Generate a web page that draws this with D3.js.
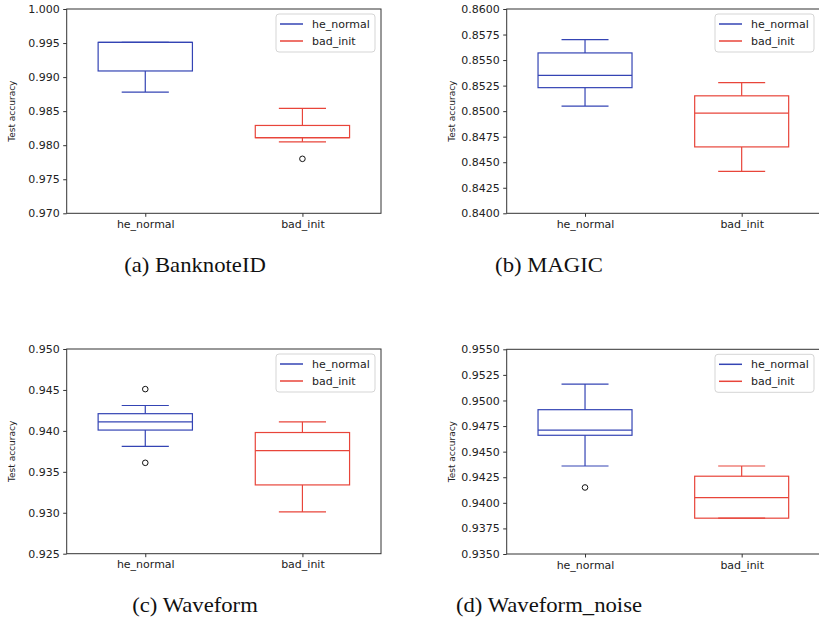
<!DOCTYPE html>
<html>
<head>
<meta charset="utf-8">
<script src="https://cdn.jsdelivr.net/npm/d3@7"></script>
<style>
  body { margin: 0; background: #fff; }
  svg { display: block; }
  .tick text { font-family: "DejaVu Sans", sans-serif; font-size: 11px; fill: #222; }
  .tick line { stroke: #333; }
</style>
</head>
<body>
<div id="chart"></div>
<script>
// categories on the x axis
var categories = ["he_normal", "bad_init"];

// box stats: [lower whisker, q1, median, q3, upper whisker]
var banknoteHe  = [0.9878, 0.9909, 0.9951, 0.9951, 0.9951];
var banknoteBad = [0.9805, 0.9811, 0.9811, 0.9829, 0.9854];
var magicHe     = [0.8505, 0.8523, 0.8535, 0.8557, 0.8570];
var magicBad    = [0.8441, 0.8465, 0.8498, 0.8515, 0.8528];
var waveHe      = [0.9381, 0.9401, 0.9411, 0.9421, 0.9431];
var waveBad     = [0.9301, 0.9334, 0.9376, 0.9398, 0.9411];
var noiseHe     = [0.9436, 0.9466, 0.9471, 0.9491, 0.9516];
var noiseBad    = [0.9385, 0.9385, 0.9405, 0.9426, 0.9436];

// outliers (fliers)
var banknoteHeOut  = [];
var banknoteBadOut = [0.9780];
var magicHeOut     = [];
var magicBadOut    = [];
var waveHeOut      = [0.9451, 0.9361];
var waveBadOut     = [];
var noiseHeOut     = [0.9415];
var noiseBadOut    = [];

// y ranges and ticks
var banknoteTicks = [0.970, 0.975, 0.980, 0.985, 0.990, 0.995, 1.000];
var magicTicks    = [0.8400, 0.8425, 0.8450, 0.8475, 0.8500, 0.8525, 0.8550, 0.8575, 0.8600];
var waveTicks     = [0.925, 0.930, 0.935, 0.940, 0.945, 0.950];
var noiseTicks    = [0.9350, 0.9375, 0.9400, 0.9425, 0.9450, 0.9475, 0.9500, 0.9525, 0.9550];

var captions = ["(a) BanknoteID", "(b) MAGIC", "(c) Waveform", "(d) Waveform_noise"];

var colors = ["#3444b4", "#e8453a"];

var W = 819, H = 627;
var svg = d3.select("#chart").append("svg").attr("width", W).attr("height", H);

// plot rectangles (left, top, right, bottom) and caption position
var layout = [
  { l: 66.7,  t: 9,     r: 381, b: 213.3, labX: 12,    capX: 195, capY: 272 },
  { l: 506.7, t: 9,     r: 820, b: 213.3, labX: 451.7, capX: 549, capY: 272 },
  { l: 66.7,  t: 349,   r: 381, b: 553.7, labX: 12,    capX: 195, capY: 612 },
  { l: 506.7, t: 349.3, r: 820, b: 554,   labX: 451.7, capX: 549, capY: 612 }
];

var panels = [
  { stats: [banknoteHe, banknoteBad], out: [banknoteHeOut, banknoteBadOut], ticks: banknoteTicks, fmt: ".3f" },
  { stats: [magicHe, magicBad],       out: [magicHeOut, magicBadOut],       ticks: magicTicks,    fmt: ".4f" },
  { stats: [waveHe, waveBad],         out: [waveHeOut, waveBadOut],         ticks: waveTicks,     fmt: ".3f" },
  { stats: [noiseHe, noiseBad],       out: [noiseHeOut, noiseBadOut],       ticks: noiseTicks,    fmt: ".4f" }
];

panels.forEach(function(p, i) {
  var L = layout[i];
  var g = svg.append("g");

  var x = d3.scaleLinear().domain([0.5, 2.5]).range([L.l, L.r]);
  var y = d3.scaleLinear().domain(d3.extent(p.ticks)).range([L.b, L.t]);
  var boxW = 0.6, capW = 0.3;

  // y axis
  g.append("g")
    .attr("transform", "translate(" + L.l + ",0)")
    .call(d3.axisLeft(y).tickValues(p.ticks).tickFormat(d3.format(p.fmt))
      .tickSize(3.5).tickPadding(3.5).tickSizeOuter(0))
    .call(function(a) { a.select(".domain").remove(); });

  // x axis
  g.append("g")
    .attr("transform", "translate(0," + L.b + ")")
    .call(d3.axisBottom(x).tickValues([1, 2]).tickFormat(function(d) { return categories[d - 1]; })
      .tickSize(3.5).tickPadding(3.5).tickSizeOuter(0))
    .call(function(a) { a.select(".domain").remove(); });

  // spines
  g.append("rect")
    .attr("x", L.l).attr("y", L.t)
    .attr("width", L.r - L.l).attr("height", L.b - L.t)
    .attr("fill", "none").attr("stroke", "#333").attr("stroke-width", 1);

  // y label
  g.append("text")
    .attr("transform", "translate(" + L.labX + "," + ((L.t + L.b) / 2) + ") rotate(-90)")
    .attr("text-anchor", "middle").attr("dy", "0.35em")
    .style("font-family", "DejaVu Sans, sans-serif").style("font-size", "9px").style("fill", "#222")
    .text("Test accuracy");

  // boxes
  p.stats.forEach(function(s, k) {
    var c = colors[k], cx = x(k + 1);
    var bg = g.append("g").attr("stroke", c).attr("stroke-width", 1.2).attr("fill", "none");
    // whiskers
    bg.append("line").attr("x1", cx).attr("x2", cx).attr("y1", y(s[0])).attr("y2", y(s[1]));
    bg.append("line").attr("x1", cx).attr("x2", cx).attr("y1", y(s[3])).attr("y2", y(s[4]));
    // caps
    [s[0], s[4]].forEach(function(v) {
      bg.append("line")
        .attr("x1", x(k + 1 - capW / 2)).attr("x2", x(k + 1 + capW / 2))
        .attr("y1", y(v)).attr("y2", y(v));
    });
    // box
    bg.append("rect")
      .attr("x", x(k + 1 - boxW / 2)).attr("y", y(s[3]))
      .attr("width", x(k + 1 + boxW / 2) - x(k + 1 - boxW / 2))
      .attr("height", y(s[1]) - y(s[3]));
    // median
    bg.append("line")
      .attr("x1", x(k + 1 - boxW / 2)).attr("x2", x(k + 1 + boxW / 2))
      .attr("y1", y(s[2])).attr("y2", y(s[2]));
    // fliers
    p.out[k].forEach(function(v) {
      g.append("circle").attr("cx", cx).attr("cy", y(v)).attr("r", 2.8)
        .attr("fill", "none").attr("stroke", "#111").attr("stroke-width", 1);
    });
  });

  // legend
  var lx = L.r - 105, ly = L.t + 5;
  var leg = g.append("g").attr("transform", "translate(" + lx + "," + ly + ")");
  leg.append("rect").attr("width", 99).attr("height", 38).attr("rx", 3)
    .attr("fill", "#fff").attr("fill-opacity", 0.8).attr("stroke", "#d5d5d5");
  categories.forEach(function(name, k) {
    var ry = 10 + k * 17;
    leg.append("line").attr("x1", 4).attr("x2", 27).attr("y1", ry).attr("y2", ry)
      .attr("stroke", colors[k]).attr("stroke-width", 1.5);
    leg.append("text").attr("x", 36).attr("y", ry).attr("dy", "0.35em")
      .style("font-family", "DejaVu Sans, sans-serif").style("font-size", "11px").style("fill", "#222")
      .text(name);
  });

  // caption (Computer Modern is wider than Times, so stretch a bit)
  var cap = svg.append("text")
    .attr("x", L.capX).attr("y", L.capY).attr("text-anchor", "middle")
    .style("font-family", "Liberation Serif, DejaVu Serif, serif").style("font-size", "21px").style("fill", "#111")
    .text(captions[i]);
  var w = cap.node().getComputedTextLength();
  cap.attr("textLength", w * 1.08).attr("lengthAdjust", "spacingAndGlyphs");
});
</script>
</body>
</html>
